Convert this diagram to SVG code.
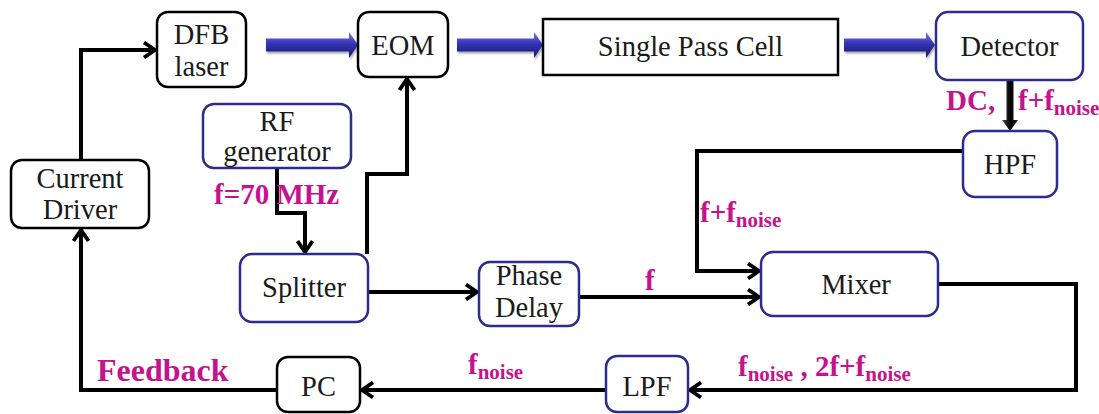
<svg xmlns="http://www.w3.org/2000/svg" width="1099" height="414" viewBox="0 0 1099 414">
  <defs>
    <style>
      .box { fill: #ffffff; stroke-width: 2.5; }
      .blk { stroke: #000000; }
      .blu { stroke: #2c2c8e; }
      .lbl { font-family: "Liberation Serif", "Times New Roman", serif; font-size: 28.5px; fill: #1a1a1a; text-anchor: middle; }
      .sig { font-family: "Liberation Serif", "Times New Roman", serif; font-size: 29px; font-weight: bold; fill: #c4138c; }
      .sub { font-size: 21px; }
      .wire { fill: none; stroke: #000000; stroke-width: 4; stroke-linejoin: miter; }
    </style>
    <marker id="chev" markerWidth="16" markerHeight="18" refX="13" refY="9" orient="auto" markerUnits="userSpaceOnUse">
      <path d="M2,1.5 L13,9 L2,16.5" fill="none" stroke="#000000" stroke-width="3.8" stroke-linejoin="miter"/>
    </marker>
    <linearGradient id="beam" x1="0" y1="0" x2="0" y2="1">
      <stop offset="0" stop-color="#7878ea"/>
      <stop offset="0.45" stop-color="#3434b4"/>
      <stop offset="1" stop-color="#14146c"/>
    </linearGradient>
    <linearGradient id="stem" x1="0" y1="0" x2="1" y2="0">
      <stop offset="0" stop-color="#555555"/>
      <stop offset="0.5" stop-color="#000000"/>
      <stop offset="1" stop-color="#222222"/>
    </linearGradient>
    <filter id="shade" x="-10%" y="-30%" width="120%" height="170%">
      <feDropShadow dx="1" dy="2" stdDeviation="1.2" flood-color="#000000" flood-opacity="0.35"/>
    </filter>
  </defs>

  <!-- optical beam path -->
  <g id="beams" filter="url(#shade)">
    <path d="M266,38.5 H349 V32 L358,45 L349,58 V51.5 H266 Z" fill="url(#beam)"/>
    <path d="M457,38.5 H534 V32 L543,45 L534,58 V51.5 H457 Z" fill="url(#beam)"/>
    <path d="M844,38.5 H926 V32 L935,45 L926,58 V51.5 H844 Z" fill="url(#beam)"/>
  </g>

  <!-- electrical connectors -->
  <g id="connectors">
    <path class="wire" d="M81,160 V50 H155" marker-end="url(#chev)"/>
    <path class="wire" d="M367,254 V174 H407 V79" marker-end="url(#chev)"/>
    <path class="wire" d="M277,168 V213 H305 V252" marker-end="url(#chev)"/>
    <path class="wire" d="M368,292 H477" marker-end="url(#chev)"/>
    <path class="wire" d="M963,151 H697 V271 H759" marker-end="url(#chev)"/>
    <path class="wire" d="M579,297 H759" marker-end="url(#chev)"/>
    <path class="wire" d="M938,284 H1076 V390 H690" marker-end="url(#chev)"/>
    <path class="wire" d="M606,390 H362" marker-end="url(#chev)"/>
    <path class="wire" d="M277,390 H81 V230" marker-end="url(#chev)"/>
    <path d="M1006.5,80 H1013.5 V120 H1018 L1010,131 L1002,120 H1006.5 Z" fill="url(#stem)"/>
  </g>

  <g id="dfb">
    <rect class="box blk" x="157" y="12" width="89" height="75" rx="11"/>
    <text class="lbl" x="201.5" y="44">DFB</text>
    <text class="lbl" x="201.5" y="76">laser</text>
  </g>
  <g id="eom">
    <rect class="box blk" x="358" y="12" width="90" height="65" rx="11"/>
    <text class="lbl" x="403" y="55">EOM</text>
  </g>
  <g id="cell">
    <rect class="box blk" x="543" y="19" width="295" height="56"/>
    <text class="lbl" x="690.5" y="56">Single Pass Cell</text>
  </g>
  <g id="detector">
    <rect class="box blu" x="936" y="12" width="147" height="68" rx="12"/>
    <text class="lbl" x="1009.5" y="56">Detector</text>
  </g>
  <g id="hpf">
    <rect class="box blu" x="963" y="131" width="94" height="66" rx="12"/>
    <text class="lbl" x="1010" y="174">HPF</text>
  </g>
  <g id="rfgen">
    <rect class="box blu" x="203" y="104" width="148" height="64" rx="11"/>
    <text class="lbl" x="277" y="131">RF</text>
    <text class="lbl" x="277" y="161">generator</text>
  </g>
  <g id="driver">
    <rect class="box blk" x="11" y="160" width="138" height="68" rx="11"/>
    <text class="lbl" x="80" y="188">Current</text>
    <text class="lbl" x="80" y="219">Driver</text>
  </g>
  <g id="splitter">
    <rect class="box blu" x="240" y="254" width="128" height="68" rx="12"/>
    <text class="lbl" x="304" y="297">Splitter</text>
  </g>
  <g id="phase">
    <rect class="box blu" x="479" y="262" width="100" height="64" rx="11"/>
    <text class="lbl" x="529" y="285">Phase</text>
    <text class="lbl" x="529" y="317">Delay</text>
  </g>
  <g id="mixer">
    <rect class="box blu" x="761" y="252" width="177" height="64" rx="12"/>
    <text class="lbl" x="856" y="294">Mixer</text>
  </g>
  <g id="pc">
    <rect class="box blk" x="277" y="357" width="83" height="55" rx="11"/>
    <text class="lbl" x="318.5" y="396">PC</text>
  </g>
  <g id="lpf">
    <rect class="box blu" x="606" y="356" width="82" height="56" rx="11"/>
    <text class="lbl" x="647" y="396">LPF</text>
  </g>

  <!-- signal labels -->
  <g id="labels">
    <text class="sig" x="946" y="110">DC,</text>
    <text class="sig" x="1018" y="110">f+f<tspan class="sub" dy="5">noise</tspan></text>
    <text class="sig" x="214" y="204">f=70 MHz</text>
    <text class="sig" x="700" y="222">f+f<tspan class="sub" dy="5">noise</tspan></text>
    <text class="sig" x="645" y="290">f</text>
    <text class="sig" x="97" y="381" style="font-size:32px">Feedback</text>
    <text class="sig" x="468" y="374">f<tspan class="sub" dy="5">noise</tspan></text>
    <text class="sig" x="738" y="376">f<tspan class="sub" dy="5">noise</tspan><tspan dy="-5"> , 2f+f</tspan><tspan class="sub" dy="5">noise</tspan></text>
  </g>
</svg>
